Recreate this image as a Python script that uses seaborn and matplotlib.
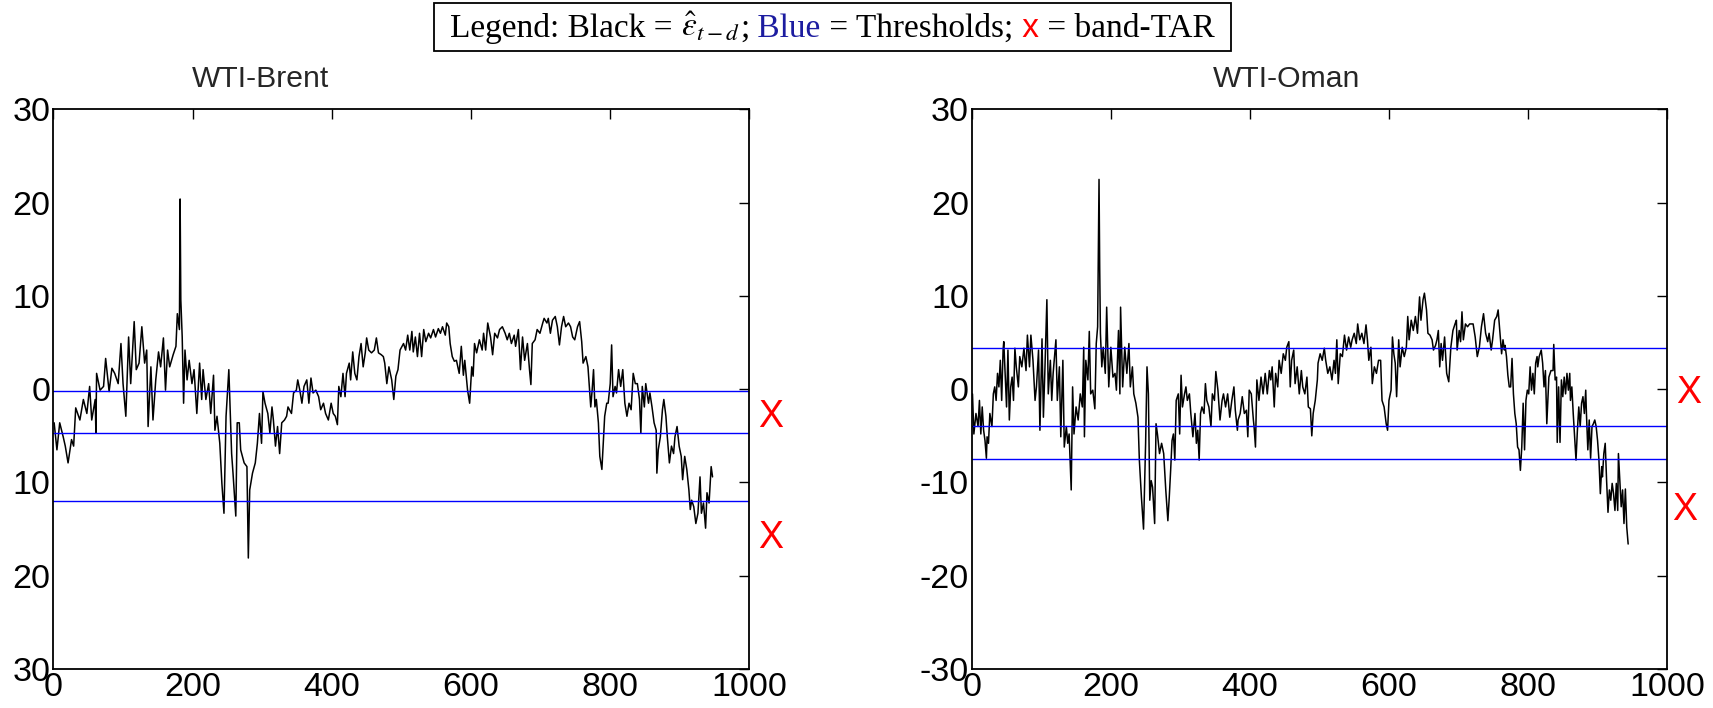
import numpy as np
import pandas as pd
import matplotlib
matplotlib.use('Agg')
import matplotlib.pyplot as plt
import seaborn as sns
from matplotlib.offsetbox import TextArea, HPacker, AnchoredOffsetbox, DrawingArea

# Plot style
sns.set_style('white')
plt.rcParams['font.family'] = ['Liberation Sans', 'DejaVu Sans']
plt.rcParams['axes.unicode_minus'] = False
plt.rcParams['mathtext.fontset'] = 'stix'

# ---- data ----
# WTI-Brent residual series
brent_t = [1, 5, 9, 14, 17, 21, 26, 29, 32, 38, 43, 48, 52, 55, 60, 61, 62, 67, 72, 75,
           80, 84, 88, 93, 97, 100, 104, 108, 111, 116, 119, 123, 127, 131, 134, 136, 140, 143, 147, 151,
           154, 158, 161, 164, 167, 172, 176, 178, 181, 182, 183, 185, 187, 189, 192, 195, 199, 202, 206, 210,
           213, 215, 219, 223, 226, 230, 232, 235, 239, 242, 245, 248, 252, 256, 258, 262, 264, 267, 269, 274,
           278, 280, 282, 286, 290, 293, 296,
           299, 301, 304, 308, 311, 314, 316, 319, 322, 325, 328, 332, 335, 337, 342, 345, 349, 351, 354, 357,
           360, 364, 367, 370, 373, 377, 381, 384, 388, 391, 395, 399, 402, 405, 408, 410, 413, 416, 419, 421,
           425, 427, 430, 433, 436, 439, 442, 445, 448, 450, 453, 457, 461, 464, 467, 471, 474, 476, 479, 482,
           486, 489, 492, 495, 498, 503, 506, 509, 512, 515, 517, 520, 523, 526, 529, 532, 535, 539, 542, 546,
           549, 553, 556, 559, 563, 565, 568, 570, 573, 576, 579, 583, 586, 589,
           591, 595, 598, 601, 603, 605, 608, 612, 616, 618, 621, 624, 628, 631, 634, 638, 641, 645, 649, 652,
           655, 658, 662, 664, 668, 671, 674, 677, 681, 684, 686, 688, 692, 695, 699, 703, 705, 709, 711, 714,
           717, 721, 724, 727, 730, 733, 736, 740, 743, 746, 749, 753, 756, 759, 761, 765, 768, 772, 774, 776,
           778, 780, 783, 785, 788, 790, 792, 795, 797, 800, 802, 804, 807, 809, 812, 815, 818, 821, 824, 827,
           830, 833, 836, 839, 842, 844, 846, 849, 851, 855, 857, 860, 863, 866, 867, 869, 872, 875, 877, 880,
           882, 885, 888, 891, 893, 896, 899, 902, 904, 907, 910, 913, 915, 917, 920, 923, 926, 929, 931, 934,
           937, 939, 942, 945, 947]
brent_e = [-3.6, -6.5, -3.6, -5.1, -6.1, -7.9, -5.4, -6.1, -2.0, -3.3, -1.1, -2.6, 0.3, -3.3, -1.1, -4.7, 1.7, -0.1, 0.3, 3.3,
           -0.25, 2.25, 1.7, 0.6, 4.9, 0.6, -2.9, 5.6, 0.6, 7.25, 2.1, 2.8, 6.7, 2.8, 4.2, -4.0, 2.4, -3.3, 1.0, 4.0,
           2.4, 5.5, -0.1, 4.2, 2.4, 3.7, 4.6, 8.1, 6.4, 20.4, 9.6, 5.6, -1.5, 4.2, 1.0, 3.1, 0.6, 2.1, -2.6, 2.8,
           -1.1, 2.1, -1.1, 0.6, -2.6, 1.5, -4.4, -2.9, -5.8, -10.1, -13.3, -2.9, 2.1, -6.9, -9.0, -13.6, -3.6, -3.6, -6.5, -7.9,
           -8.3, -18.1, -10.8, -9.0, -7.9, -5.8, -2.6,
           -5.8, -0.25, -1.5, -2.6, -4.7, -1.9, -3.3, -6.1, -4.0, -6.9, -3.6, -3.3, -2.9, -1.9, -2.6, -0.4, -0.1, 1.0, -0.1, -1.5,
           0.3, 1.0, -1.5, 1.2, -0.4, -0.1, -0.8, -2.2, -1.5, -2.6, -3.3, -1.5, -2.6, -2.9, -3.8, 0.3, -0.8, 1.7, -0.8, 1.7,
           2.8, 1.0, 4.0, 1.7, 1.0, 3.5, 4.9, 2.4, 3.9, 5.5, 4.2, 3.9, 4.2, 5.5, 3.9, 3.7, 3.5, 2.8, 0.6, 2.4,
           1.0, -1.1, 1.4, 2.1, 4.2, 4.9, 4.2, 5.8, 4.2, 6.2, 4.0, 5.6, 3.5, 6.0, 3.5, 6.4, 5.1, 6.0, 5.5, 6.4,
           5.6, 6.5, 6.0, 6.7, 5.8, 7.1, 6.7, 4.9, 3.5, 3.0, 3.1, 1.7, 4.6, 1.5,
           3.1, -0.1, -1.5, 2.4, 1.4, 4.9, 3.9, 5.3, 4.2, 6.0, 4.2, 7.1, 5.6, 3.7, 6.0, 5.5, 6.4, 6.7, 6.0, 5.3,
           6.0, 4.9, 5.8, 4.6, 6.4, 2.1, 5.6, 3.1, 4.9, 2.1, 0.5, 4.9, 5.3, 6.4, 6.0, 7.1, 7.6, 7.1, 7.6, 6.0,
           7.4, 7.8, 6.7, 4.75, 6.7, 7.8, 6.7, 7.1, 6.7, 5.6, 5.3, 6.7, 7.25, 5.1, 2.8, 3.5, 2.4, -1.9, -0.1, 2.1,
           -1.9, -1.1, -3.6, -7.2, -8.6, -5.8, -2.9, -1.5, -1.5, 0.6, 4.75, -0.8, 0.3, -0.4, 2.1, 0.3, 2.1, -1.5, -2.9, -1.5,
           -2.2, 1.7, 0.6, 0.6, -1.1, -4.7, 0.3, -1.9, 0.6, -1.5, -0.4, -1.9, -3.6, -4.4, -9.0, -6.5, -5.1, -2.2, -1.1, -2.9,
           -5.1, -7.9, -6.1, -6.9, -5.1, -4.0, -6.1, -7.2, -9.7, -7.2, -8.6, -10.8, -12.9, -11.9, -12.6, -14.4, -13.3, -9.4, -13.3, -12.2,
           -14.9, -11.1, -12.2, -8.3, -9.4]

# WTI-Oman residual series
oman_t = [1, 3, 6, 9, 11, 13, 15, 17, 19, 21, 22, 24, 26, 29, 31, 33, 35, 37, 39, 41,
          43, 45, 46, 48, 50, 52, 54, 56, 58, 60, 62, 64, 67, 69, 72, 75, 78, 80, 83, 85,
          88, 91, 93, 96, 98, 101, 103, 105, 108, 110, 113, 115, 117, 121, 123, 126, 128, 131, 133, 136,
          138, 140, 143, 145, 147, 150, 153, 156, 159, 161, 162, 164, 167, 169, 171, 174, 177, 179, 181, 183,
          184, 185, 187, 189, 192, 194, 197, 200, 203, 206, 208, 211, 213, 214, 217, 220, 223, 226, 228, 231,
          233, 236, 239, 241, 244, 247, 250, 252, 254, 256, 258, 260, 263, 265, 267, 270,
          273, 276, 279, 282, 284, 286, 288, 290, 292, 294, 297, 299, 301, 303, 306, 308, 310, 313, 315, 318,
          321, 323, 325, 327, 329, 331, 334, 336, 338, 341, 344, 346, 349, 351, 354, 357, 360, 362, 365, 368,
          371, 374, 377, 379, 382, 383, 386, 389, 392, 395, 397, 399, 402, 405, 406, 408, 410, 413, 416, 419,
          422, 425, 428, 430, 432, 435, 437, 440, 442, 445, 448, 451, 453, 456, 458, 460, 463, 465, 468, 471,
          474, 476, 479, 482, 484, 487, 489, 491, 494, 497, 498, 501, 504, 507, 509, 512, 515, 518, 521, 523,
          525, 527, 530, 533, 536, 539, 542, 545, 547, 550, 553, 555, 558, 561, 564, 567, 569, 571, 574, 576, 579,
          582, 585, 588, 590, 593, 596, 598, 600, 603, 605, 607, 609, 611, 614, 616, 619, 622, 625, 627, 629,
          632, 635, 638, 641, 644, 646, 649, 651, 654, 656, 659, 662, 664, 667, 669, 671, 673, 675, 677, 680,
          683, 686, 689, 692, 695, 697, 698, 701, 703, 705, 707, 710, 713, 716, 719, 721, 724, 727, 730, 733,
          736, 739, 742, 744, 747, 749, 752, 755, 757, 760, 762, 764, 766, 767, 769, 771, 773, 775, 777, 779,
          781, 783, 785, 787, 789, 791, 793, 795, 797, 799, 801, 803, 805, 807, 809, 811, 813, 814, 816, 819,
          821, 823, 825, 827, 830, 833, 836, 837, 839, 841, 842, 844, 846, 848, 850, 852, 854, 856, 858, 860,
          861, 863, 865, 867, 869, 871, 873, 875, 877, 879, 881, 883, 884, 886, 888, 890, 892, 894, 896, 898,
          900, 902, 904, 906, 907, 909, 911, 913, 915, 917, 919, 921, 923, 925, 927, 929, 930, 932, 934, 936,
          938, 940, 942, 944]
oman_e = [-0.5, -4.8, -2.6, -4.0, -1.2, -4.8, -1.9, -4.4, -5.5, -7.4, -5.1, -5.8, -2.6, -4.0, -0.5, 0.25, -1.2, 1.7, 0.25, 3.1,
          -1.2, 4.2, 5.1, 1.7, -1.9, 4.2, -3.3, 0.25, 1.3, -1.2, 4.4, 2.4, 0.25, 3.5, 2.4, 4.4, 2.0, 5.8, 2.4, 5.8,
          3.1, -1.2, 0.25, 4.2, -4.4, 5.4, -3.0, 1.7, 9.6, -0.5, 3.1, -1.2, 1.7, 5.3, -1.2, 2.4, -5.1, 3.1, -6.2, -4.0,
          -5.8, -4.8, -10.8, 0.25, -4.8, -1.9, -3.3, -0.5, -1.9, 4.5, -5.1, 3.1, 1.0, 6.2, -0.5, -0.1, -2.1, 4.9, 6.7, 22.5,
          12.8, 6.0, 2.4, 4.5, 1.7, 8.8, 0.25, 4.5, 1.3, 1.7, -0.1, 6.3, -0.5, 8.8, 0.25, 4.5, 1.7, 4.9, 0.25, 2.4,
          -0.5, -1.5, -3.0, -7.6, -11.6, -15.0, -5.8, 2.4, -0.5, -11.9, -9.8, -10.5, -14.4, -3.7, -4.8, -6.9,
          -5.8, -6.9, -10.8, -14.1, -11.6, -8.7, -5.5, -4.8, -7.6, -1.2, -0.5, -4.8, 1.5, -1.9, -0.5, 0.25, -1.2, -0.5, -2.6, -5.1,
          -2.6, -5.8, -4.4, -7.6, -2.6, -1.9, -2.6, 0.6, -1.2, -1.9, -4.0, -0.5, -1.2, 1.9, -0.1, -3.3, -1.2, -0.5, -1.9, -0.5,
          -3.0, -1.2, 0.25, -2.25, -4.4, -3.3, -2.6, -0.8, -2.6, -2.25, -5.1, -0.1, -0.5, -3.3, -4.0, -6.2, 1.0, -1.2, 1.3, -0.5,
          1.7, -0.5, 2.0, 1.0, 2.4, -1.9, 1.7, 0.25, 3.1, 1.7, 3.8, 3.1, 4.5, 5.1, 0.25, 3.1, 4.2, 0.6, 2.4, -0.5,
          2.0, 0.25, -0.5, 1.3, -1.9, -2.1, -5.0, -2.6, -1.2, 1.0, 2.8, 3.8, 3.1, 4.4, 3.1, 1.7, 2.4, 1.0, 3.1, 1.7,
          5.3, 0.6, 3.8, 3.5, 5.8, 4.2, 5.6, 4.5, 5.3, 6.0, 4.9, 7.0, 5.3, 6.0, 4.9, 6.9, 5.3, 3.1, 4.5, 0.6, 2.4,
          1.7, 3.1, 3.1, -1.2, -1.9, -3.7, -4.4, -1.2, -0.1, 5.6, 3.8, 2.8, -0.8, 5.3, 2.4, 4.5, 3.5, 4.5, 7.8, 5.3,
          7.4, 6.3, 7.8, 6.0, 9.9, 7.4, 9.6, 10.3, 8.5, 6.0, 5.8, 5.3, 4.2, 4.7, 5.3, 6.3, 2.4, 4.9, 3.1, 5.6,
          1.7, 0.8, 4.5, 6.3, 7.0, 7.4, 4.2, 6.3, 5.1, 8.3, 5.3, 7.0, 6.7, 7.0, 7.0, 7.0, 5.6, 3.5, 4.5, 6.7,
          8.1, 6.0, 5.1, 6.0, 4.2, 5.3, 7.4, 7.8, 8.5, 5.6, 3.8, 5.3, 4.2, 4.7, 3.5, 1.5, 0.25, 0.25, 3.3, -0.5,
          -2.6, -3.7, -6.2, -6.5, -8.7, -6.2, -1.5, -6.5, -1.2, -0.1, -0.5, 2.4, -0.1, 1.7, -0.5, 2.8, 3.5, 2.4, 3.5, 4.2,
          2.8, 0.25, 2.0, -3.7, 1.3, 2.0, 2.0, 4.8, 1.0, 1.3, -5.7, 0.25, -5.7, 1.0, -0.8, 1.3, -0.5, 1.7, -0.1, 1.7,
          -1.2, 0.25, -2.6, -5.1, -7.6, -4.4, -1.9, -4.0, -1.5, -0.8, -2.6, -0.1, -2.6, -6.5, -3.3, -7.4, -4.0, -3.7, -3.3, -4.0,
          -5.5, -7.6, -11.2, -8.3, -9.4, -6.9, -5.8, -9.8, -13.2, -10.8, -11.9, -10.1, -11.2, -13.0, -10.1, -13.0, -6.9, -9.8, -12.6, -10.8,
          -14.4, -10.7, -14.8, -16.6]

# threshold levels (blue lines)
brent_thresholds = [-0.2, -4.7, -12.0]
oman_thresholds = [4.4, -3.9, -7.5]

# band-TAR markers (red x, drawn outside the right spine)
brent_band_x = [1030, 1030]
brent_band_y = [-3.0, -16.0]
oman_band_x = [1031, 1025]
oman_band_y = [-0.4, -13.0]

titles = ['WTI-Brent', 'WTI-Oman']
xticks = [0, 200, 400, 600, 800, 1000]
yticks = [-30, -20, -10, 0, 10, 20, 30]
brent_ylabels = ['30', '20', '10', '0', '10', '20', '30']
oman_ylabels = ['-30', '-20', '-10', '0', '10', '20', '30']

panels = [
    dict(t=brent_t, e=brent_e, thr=brent_thresholds, bx=brent_band_x, by=brent_band_y,
         title=titles[0], ylabels=brent_ylabels, title_x=0.297),
    dict(t=oman_t, e=oman_e, thr=oman_thresholds, bx=oman_band_x, by=oman_band_y,
         title=titles[1], ylabels=oman_ylabels, title_x=0.452),
]

fig = plt.figure(figsize=(17.13, 7.08), dpi=100)
ax_left = fig.add_axes([0.0312, 0.0551, 0.4063, 0.7903])
ax_right = fig.add_axes([0.5673, 0.0551, 0.4059, 0.7903])

for ax, p in zip([ax_left, ax_right], panels):
    df = pd.DataFrame({'t': p['t'], 'e': p['e']})
    sns.lineplot(data=df, x='t', y='e', ax=ax, color='black', linewidth=1.1,
                 estimator=None, sort=False)
    for level in p['thr']:
        ax.axhline(level, color='#0000ff', linewidth=1.0)
    for bx, by in zip(p['bx'], p['by']):
        ax.text(bx, by, 'X', color='red', fontsize=27, ha='center', va='center',
                clip_on=False)

    ax.set_xlim(0, 1000)
    ax.set_ylim(-30, 30)
    ax.set_xticks(xticks)
    ax.set_yticks(yticks)
    ax.set_yticklabels(p['ylabels'])
    ax.set_xlabel('')
    ax.set_ylabel('')
    ax.tick_params(direction='in', length=7, width=1, labelsize=24.5, pad=2,
                   top=True, right=True, colors='black')
    for s in ax.spines.values():
        s.set_color('black')
        s.set_linewidth(1.3)
    ax.text(p['title_x'], 1.055, p['title'], transform=ax.transAxes,
            ha='center', va='center', fontsize=21.7)

# legend box on top, mixed colours so built from pieces
serif = dict(family='Liberation Serif', fontsize=24, color='black')
pieces = [
    DrawingArea(6, 0),
    TextArea('Legend: Black =', textprops=serif),
    TextArea(r' $\hat{\varepsilon}_{t-d}$', textprops=serif),
    TextArea(';', textprops=serif),
    TextArea(' Blue', textprops=dict(serif, color='#1c1ca0')),
    TextArea(' = Thresholds;', textprops=serif),
    TextArea(' x', textprops=dict(family='Liberation Sans', fontsize=24, color='red')),
    TextArea(' = band-TAR', textprops=serif),
    DrawingArea(6, 0),
]
row = HPacker(children=pieces, align='baseline', pad=0, sep=0)
box = AnchoredOffsetbox(loc='upper center', child=row, pad=0.55, borderpad=0,
                        frameon=True, bbox_to_anchor=(0.486, 0.996),
                        bbox_transform=fig.transFigure)
box.patch.set_edgecolor('black')
box.patch.set_linewidth(1.3)
box.patch.set_boxstyle('square', pad=0)
fig.add_artist(box)

fig.savefig('out.png', dpi=100)
